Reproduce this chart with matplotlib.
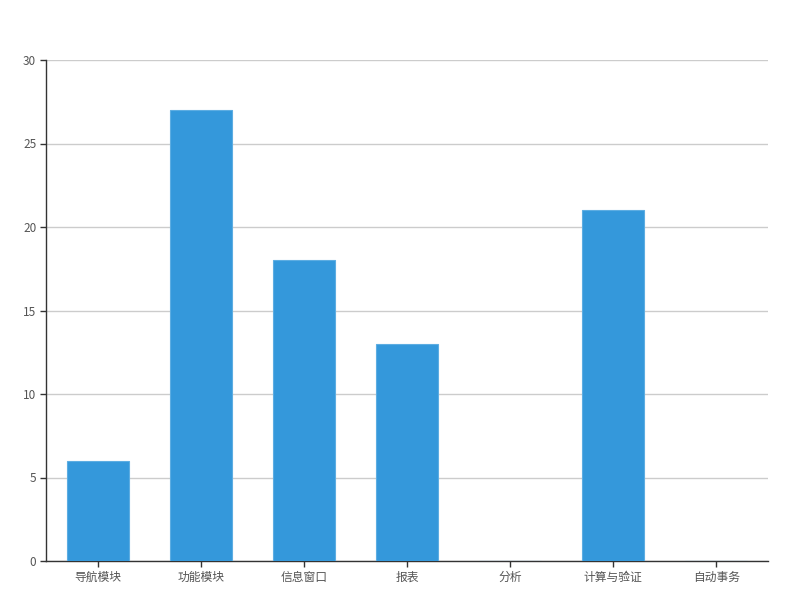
import matplotlib
matplotlib.use("Agg")
import matplotlib.pyplot as plt
import numpy as np

plt.rcParams['font.family'] = ['Noto Sans CJK SC', 'DejaVu Sans']

categories = ["导航模块", "功能模块", "信息窗口", "报表", "分析", "计算与验证", "自动事务"]
values = [6, 27, 18, 13, 0, 21, 0]
yticks = [0, 5, 10, 15, 20, 25, 30]

BAR = "#3498db"

fig = plt.figure(figsize=(8, 6), dpi=100)
ax = fig.add_axes([46/800, 39/600, 722/800, 501/600])
x = np.arange(len(categories))
ax.bar(x, values, width=0.6, color=BAR, edgecolor="#5dade2", linewidth=0.8, zorder=3)

ax.set_xlim(-0.5, len(categories) - 0.5)
ax.set_ylim(0, 30)
ax.set_yticks(yticks)
ax.set_xticks(x)
ax.set_xticklabels(categories)
ax.grid(axis="y", color="#cccccc", linewidth=1, zorder=0)
for s in ("top", "right"):
    ax.spines[s].set_visible(False)
for s in ("left", "bottom"):
    ax.spines[s].set_color("#333333")
    ax.spines[s].set_linewidth(1)
ax.tick_params(axis="both", colors="#333333", labelsize=8.5, length=4, width=1, pad=3)
ax.tick_params(axis="both", labelcolor="#555555")

fig.savefig("out.png", dpi=100)
